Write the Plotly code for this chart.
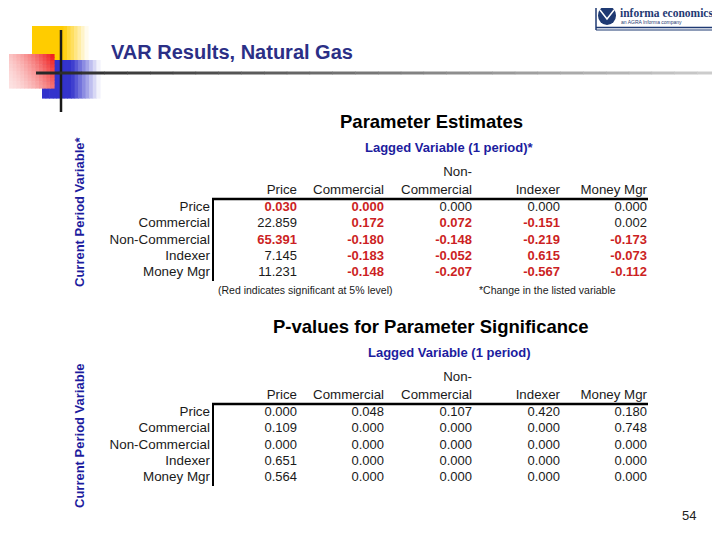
import plotly.graph_objects as go

# ---- data -------------------------------------------------------------
lag_vars = ["Price", "Commercial", "Non-<br>Commercial", "Indexer", "Money Mgr"]
current_vars = ["Price", "Commercial", "Non-Commercial", "Indexer", "Money Mgr"]

# parameter estimates, one list per lagged variable (rows = current_vars)
est_price = [0.030, 22.859, 65.391, 7.145, 11.231]
est_commercial = [0.000, 0.172, -0.180, -0.183, -0.148]
est_noncommercial = [0.000, 0.072, -0.148, -0.052, -0.207]
est_indexer = [0.000, -0.151, -0.219, 0.615, -0.567]
est_moneymgr = [0.000, 0.002, -0.173, -0.073, -0.112]

# p-values, same layout
pv_price = [0.000, 0.109, 0.000, 0.651, 0.564]
pv_commercial = [0.048, 0.000, 0.000, 0.000, 0.000]
pv_noncommercial = [0.107, 0.000, 0.000, 0.000, 0.000]
pv_indexer = [0.420, 0.000, 0.000, 0.000, 0.000]
pv_moneymgr = [0.180, 0.748, 0.000, 0.000, 0.000]

SIG_LEVEL = 0.05

estimates = [est_price, est_commercial, est_noncommercial, est_indexer, est_moneymgr]
pvalues = [pv_price, pv_commercial, pv_noncommercial, pv_indexer, pv_moneymgr]

# ---- style ------------------------------------------------------------
FONT = "Liberation Sans, Arial, sans-serif"
NAVY = "#2b2f86"
BLUE_TXT = "#1c1c9e"
RED = "#cc1f24"
TXT = "#1a1a1a"

COL_X = [297, 384, 472, 560, 647]   # right edges of value columns (px)
LABEL_X = 210
ROW_Y = [207, 223, 240, 256, 272]
TABLE2_DY = 205

# the page body has an 8px margin, so the plot area starts at (8, 8);
# axis ranges are set so that data units equal window pixels
OFF = 8
FIG_W = 720 - OFF
FIG_H = 540 - 3 * OFF

fig = go.Figure()


def lerp_color(c, t):
    # t=1 -> full colour, t=0 -> white
    r, g, b = c
    return "rgb(%d,%d,%d)" % (255 + (r - 255) * t, 255 + (g - 255) * t, 255 + (b - 255) * t)


def gradient_rect(x0, x1, y0, y1, rgb, fn, nx=16, ny=1):
    w = (x1 - x0) / nx
    h = (y1 - y0) / ny
    for i in range(nx):
        for j in range(ny):
            u = (i + 0.5) / nx
            v = (j + 0.5) / ny
            col = lerp_color(rgb, max(0.0, min(1.0, fn(u, v))))
            fig.add_shape(type="rect", xref="x", yref="y",
                          x0=x0 + i * w, x1=x0 + (i + 1) * w + 0.6,
                          y0=y0 + j * h, y1=y0 + (j + 1) * h + 0.6,
                          fillcolor=col, line=dict(width=0), layer="below")


# decorative squares (slide template)
gradient_rect(32, 88, 26, 60, (255, 204, 0), lambda u, v: 1 if u < 0.55 else 1 - (u - 0.55) / 0.45)
gradient_rect(42, 100, 60, 98, (51, 51, 204), lambda u, v: 1 if u < 0.5 else 1 - (u - 0.5) / 0.5)
gradient_rect(9, 54, 54, 88, (240, 20, 20),
              lambda u, v: 0.12 + 0.88 * (0.7 * u + 0.3 * (1 - v)) ** 1.6, nx=12, ny=10)

# cross lines
fig.add_shape(type="line", x0=61, x1=61, y0=30, y1=112, line=dict(color="#1a1a1a", width=2.5))
n_seg = 30
for k in range(n_seg):
    xa = 36 + (720 - 36) * k / n_seg
    xb = 36 + (720 - 36) * (k + 1) / n_seg + 0.5
    g = int(40 + 170 * k / n_seg)
    fig.add_shape(type="line", x0=xa, x1=xb, y0=73, y1=73,
                  line=dict(color="rgb(%d,%d,%d)" % (g, g, g), width=3))

fig.add_annotation(x=109, y=52, xref="x", yref="y", xanchor="left", yanchor="middle",
                   text="<b>VAR Results, Natural Gas</b>", showarrow=False,
                   font=dict(family=FONT, size=20, color=NAVY))

# logo
fig.add_shape(type="line", x0=596, x1=718, y0=2, y1=2, line=dict(color="#1f3a73", width=2))
fig.add_shape(type="line", x0=596, x1=718, y0=27.5, y1=27.5, line=dict(color="#1f3a73", width=1.5))
fig.add_shape(type="line", x0=596, x1=718, y0=30, y1=30, line=dict(color="#1f3a73", width=1))
fig.add_shape(type="line", x0=596, x1=596, y0=2, y1=30, line=dict(color="#1f3a73", width=1.5))
fig.add_shape(type="circle", x0=598, x1=616, y0=6, y1=25, fillcolor="#1f3a73", line=dict(width=0))
fig.add_shape(type="path", path="M 600 10 L 607 19 L 614 10", line=dict(color="white", width=1.5))
fig.add_annotation(x=618, y=13, xanchor="left", yanchor="middle", showarrow=False,
                   text="<b>informa economics</b>",
                   font=dict(family="Liberation Serif, serif", size=11.5, color="#1f3a73"))
fig.add_annotation(x=619, y=22, xanchor="left", yanchor="middle", showarrow=False,
                   text="an AGRA Informa company",
                   font=dict(family=FONT, size=5, color="#1f3a73"))


def add_table(dy, title, subtitle, ylabel, ylabel_y, values, pvals, highlight, footnotes):
    fig.add_annotation(x=431, y=121 + dy, xanchor="center", yanchor="middle", showarrow=False,
                       text="<b>%s</b>" % title, font=dict(family=FONT, size=18.5, color="black"))
    fig.add_annotation(x=449, y=147 + dy, xanchor="center", yanchor="middle", showarrow=False,
                       text="<b>%s</b>" % subtitle, font=dict(family=FONT, size=13, color=BLUE_TXT))
    fig.add_annotation(x=79, y=ylabel_y, xanchor="center", yanchor="middle", showarrow=False,
                       textangle=-90, text="<b>%s</b>" % ylabel,
                       font=dict(family=FONT, size=13, color=BLUE_TXT))

    # column headers
    fig.add_trace(go.Scatter(
        x=COL_X, y=[197 + dy] * len(lag_vars), mode="text",
        text=lag_vars, textposition="top left",
        textfont=dict(family=FONT, size=13.3, color=TXT), hoverinfo="skip"))
    # row labels
    fig.add_trace(go.Scatter(
        x=[LABEL_X] * len(current_vars), y=[r + 1 + dy for r in ROW_Y], mode="text",
        text=current_vars, textposition="middle left",
        textfont=dict(family=FONT, size=13.4, color=TXT), hoverinfo="skip"))
    # value columns
    for cx, col, pcol in zip(COL_X, values, pvals):
        sig = [highlight and p < SIG_LEVEL for p in pcol]
        txt = ["<b>%.3f</b>" % v if s else "%.3f" % v for v, s in zip(col, sig)]
        fig.add_trace(go.Scatter(
            x=[cx] * len(col), y=[r + 1 + dy for r in ROW_Y], mode="text",
            text=txt, textposition="middle left",
            textfont=dict(family=FONT, size=13, color=[RED if s else TXT for s in sig]),
            hoverinfo="skip"))

    fig.add_shape(type="line", x0=212, x1=648, y0=199 + dy, y1=199 + dy,
                  line=dict(color="black", width=2.5))
    fig.add_shape(type="line", x0=213, x1=213, y0=199 + dy, y1=281 + dy,
                  line=dict(color="black", width=2))

    for fx, ftxt in footnotes:
        fig.add_annotation(x=fx, y=290 + dy, xanchor="center", yanchor="middle", showarrow=False,
                           text=ftxt, font=dict(family=FONT, size=10.5, color=TXT))


add_table(0, "Parameter Estimates", "Lagged Variable (1 period)*", "Current Period Variable*", 212,
          estimates, pvalues, True,
          [(305, "(Red indicates significant at 5% level)"), (547, "*Change in the listed variable")])
add_table(TABLE2_DY, "P-values for Parameter Significance", "Lagged Variable (1 period)",
          "Current Period Variable", 436, pvalues, pvalues, False, [])

fig.add_annotation(x=689, y=515, xanchor="center", yanchor="middle", showarrow=False,
                   text="54", font=dict(family=FONT, size=13, color="#222"))

fig.update_layout(
    width=FIG_W, height=FIG_H,
    margin=dict(l=0, r=0, t=0, b=0),
    paper_bgcolor="white", plot_bgcolor="white",
    showlegend=False,
    xaxis=dict(range=[OFF, OFF + FIG_W], visible=False, fixedrange=True),
    yaxis=dict(range=[OFF + FIG_H, OFF], visible=False, fixedrange=True),
)

fig.write_html("out.html")
